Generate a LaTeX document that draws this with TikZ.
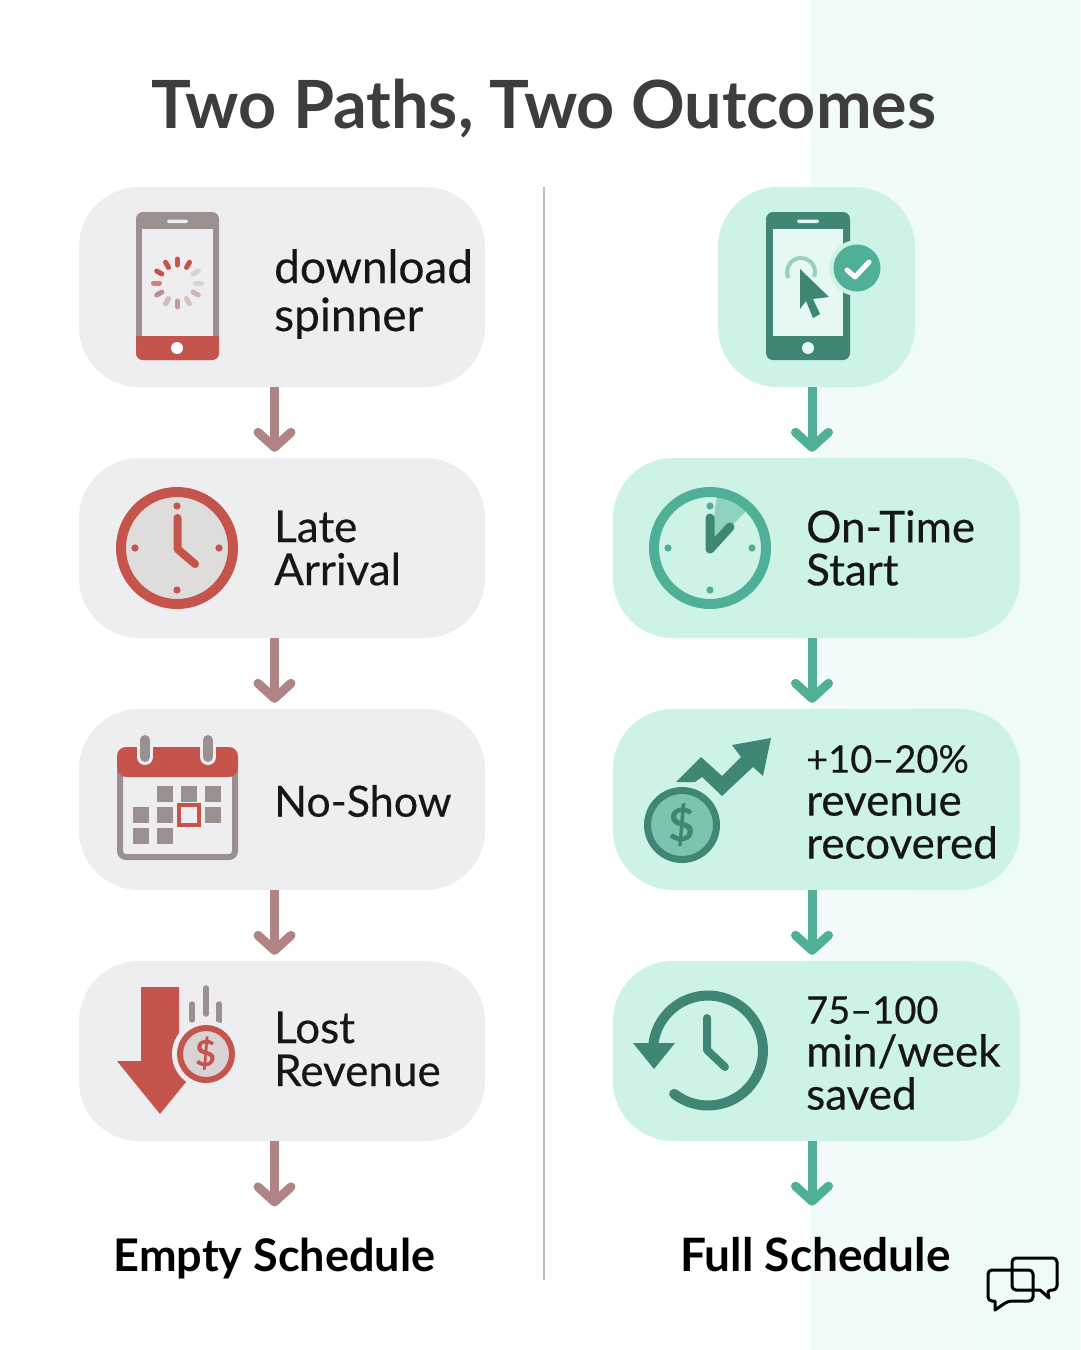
\documentclass[tikz,border=0pt]{standalone}
\usepackage{fontspec}
\setmainfont{Lato}[FakeBold=0.35,BoldFont={Lato Bold},BoldFeatures={FakeBold=0}]
\usetikzlibrary{arrows.meta}

\definecolor{redfill}{HTML}{C5544C}
\definecolor{greyicon}{HTML}{9B9090}
\definecolor{greycard}{HTML}{EEEEF0}
\definecolor{redarrow}{HTML}{B08484}
\definecolor{greencard}{HTML}{CDF3E6}
\definecolor{greendark}{HTML}{3F8674}
\definecolor{greenmid}{HTML}{4FB097}
\definecolor{greenpale}{HTML}{E6F8F2}
\definecolor{inktext}{HTML}{161616}
\definecolor{clockface}{HTML}{DFDCDC}
\definecolor{panelleft}{HTML}{F2FBF9}
\definecolor{panelright}{HTML}{EEFBF6}

\tikzset{
	cardgrey/.style={shape=rectangle,fill=greycard,rounded corners=60pt,inner sep=0pt,minimum width=406pt},
	cardgreen/.style={shape=rectangle,fill=greencard,rounded corners=60pt,inner sep=0pt,minimum width=407pt},
	cardtext/.style={anchor=west,align=left,inner sep=0pt,text=inktext,font=\fontsize{44}{43}\selectfont},
	endtext/.style={anchor=base,inner sep=0pt,text=black,font=\fontsize{45}{45}\selectfont\bfseries},
	flowred/.style={draw=redarrow,line width=9pt,-{Straight Barb[round,length=15pt,width=33pt,line width=9pt]}},
	flowgreen/.style={flowred,draw=greenmid},
	dollar/.style={inner sep=0pt,font=\fontsize{36}{36}\selectfont\bfseries},
}
\newcommand{\smalldigits}{\fontsize{38}{43}\selectfont}

\begin{document}
\begin{tikzpicture}[x=1pt,y=-1pt]

		\useasboundingbox (0,0) rectangle (1080,1350);
		\fill[white] (0,0) rectangle (1080,1350);
		\shade[left color=panelleft,right color=panelright] (810,0) rectangle (1080,1350);

		\node[anchor=base,inner sep=0pt,text=black!76,font=\fontsize{66.5}{66}\selectfont\bfseries] (title) at (544,128) {Two Paths, Two Outcomes};
		\coordinate (divtop) at (544,187);
		\coordinate (divbot) at (544,1280);
		\draw[line width=1.2pt,color=greyicon!60] (divtop) -- (divbot);

		% left column
		\node[cardgrey,minimum height=200pt] (spin) at (282,287) {};
		\node[cardgrey,minimum height=180pt] (late) at (282,548) {};
		\node[cardgrey,minimum height=181pt] (noshow) at (282,799.5) {};
		\node[cardgrey,minimum height=180pt] (lost) at (282,1051) {};
		\node[endtext] (empty) at (274.5,1271) {Empty Schedule};

		\node[cardtext,font=\fontsize{46}{48}\selectfont] (spintext) at (274,294) {download\\spinner};
		\node[cardtext] (latetext) at (274,548) {Late\\Arrival};
		\node[cardtext,font=\fontsize{43}{43}\selectfont] (noshowtext) at (274,801) {No-Show};
		\node[cardtext] (losttext) at (274,1049) {Lost\\Revenue};

		\draw[flowred] ([xshift=-7.5pt]spin.south) -- ([xshift=-7.5pt,yshift=6pt]late.north);
		\draw[flowred] ([xshift=-7.5pt]late.south) -- ([xshift=-7.5pt,yshift=6pt]noshow.north);
		\draw[flowred] ([xshift=-7.5pt]noshow.south) -- ([xshift=-7.5pt,yshift=6pt]lost.north);
		\draw[flowred] (lost.south -| empty.north) -- ([yshift=31pt]empty.north);

		% right column
		\node[cardgreen,minimum width=197pt,minimum height=200pt] (tap) at (816.5,287) {};
		\node[cardgreen,minimum height=180pt] (ontime) at (816.5,548) {};
		\node[cardgreen,minimum height=181pt] (money) at (816.5,799.5) {};
		\node[cardgreen,minimum height=180pt] (saved) at (816.5,1051) {};
		\node[endtext,font=\fontsize{46}{46}\selectfont\bfseries] (full) at (815.5,1271) {Full Schedule};

		\node[cardtext] (ontimetext) at (806,548) {On-Time\\Start};
		\node[cardtext] (moneytext) at (806,802) {{\smalldigits +10–20\%}\\revenue\\recovered};
		\node[cardtext] (savedtext) at (806,1053) {{\smalldigits 75–100}\\min/week\\saved};

		\draw[flowgreen] ([xshift=-4.5pt]tap.south) -- ([xshift=-4.5pt,yshift=6pt]ontime.north);
		\draw[flowgreen] ([xshift=-4.5pt]ontime.south) -- ([xshift=-4.5pt,yshift=6pt]money.north);
		\draw[flowgreen] ([xshift=-4.5pt]money.south) -- ([xshift=-4.5pt,yshift=6pt]saved.north);
		\draw[flowgreen] ([xshift=-4.5pt]saved.south) -- ([xshift=-3.5pt,yshift=31pt]full.north);

		% phone with spinner
		\fill[greyicon,rounded corners=7pt] (136,212) rectangle (219,360);
		\fill[redfill,rounded corners=7pt] (136,345) -- (136,360) -- (219,360) -- (219,345) -- cycle;
		\fill[redfill] (136,336) rectangle (219,350);
		\fill[greycard] (142,229) rectangle (213,336);
		\fill[greycard,rounded corners=1.5pt] (167,219.5) rectangle (188,223);
		\fill[white] (177,348) circle (6);
		\foreach \ang/\col in {-90/redfill,-60/redfill,-30/greyicon!40,0/greyicon!40,30/redarrow!60,60/redarrow!50,90/redarrow!80,120/redarrow!55,150/redarrow!90,180/redfill!75,210/redfill,240/redfill}
			\draw[color=\col,line width=5pt,line cap=round] (177.5,283) ++(\ang:18) -- ++(\ang:6);

		\fill[greendark,rounded corners=7pt] (766,212) rectangle (850,360);
		\fill[greenpale] (773,229) rectangle (843,336);
		\fill[greenpale,rounded corners=1.5pt] (797,219.5) rectangle (819,223);
		\fill[greenpale] (808,348) circle (6);
		\draw[color=greenmid!60,line width=4pt] (801,272) ++(155:14) arc (155:380:14);
		\fill[greendark] (800,269) -- (829,297) -- (813,299) -- (820,314) -- (813,318) -- (806,301) -- (800,309) -- cycle;
		\fill[greencard] (857,268) circle (28);
		\fill[greenmid] (857,268) circle (23.5);
		\draw[white,line width=5pt,line cap=round,line join=round] (847,270) -- (855,277) -- (869,262);

		% clocks
		\draw[draw=redfill,fill=clockface,line width=10pt] (177,548) circle (56);
		\foreach \dx/\dy in {0/-42,42/0,-42/0,0/42}
			\fill[redfill] (177,548) ++(\dx,\dy) circle (3.6);
		\draw[redfill,line width=8pt,line cap=round,line join=round] (177.5,518) -- (177.5,549) -- (195,564);

		\fill[greenmid!50!greencard] (710,548) -- (717,495) -- (747,510) -- cycle;
		\draw[draw=greenmid,line width=10pt] (710,548) circle (56);
		\foreach \dx/\dy in {0/-42,42/0,-42/0,0/42}
			\fill[greenmid] (710,548) ++(\dx,\dy) circle (3.6);
		\draw[greendark,line width=9pt,line cap=round,line join=round] (710,518) -- (710,549) -- (730,527);

		% calendar
		\draw[greyicon,line width=6pt,rounded corners=6pt,fill=greycard] (120,770) -- (120,857) -- (235,857) -- (235,770);
		\fill[redfill,rounded corners=9pt] (117,777) -- (117,747) -- (238,747) -- (238,777) -- cycle;
		\foreach \rx in {145,208} {
			\draw[greycard,line width=16pt,line cap=round] (\rx,740) -- (\rx,757);
			\draw[greyicon,line width=10pt,line cap=round] (\rx,740) -- (\rx,757);
		}
		\foreach \sx/\sy in {157/786,181/786,205/786,133/807,157/807,205/807,133/828,157/828}
			\fill[greyicon] (\sx,\sy) rectangle ++(16,16);
		\draw[redfill,line width=3.5pt] (179,805) rectangle (199,825);

		% falling arrow and coin
		\fill[redfill] (141,987) -- (179,987) -- (179,1061) -- (203,1061) -- (160,1114) -- (117,1061) -- (141,1061) -- cycle;
		\foreach \lx/\la/\lb in {192/1004/1020,206/988/1014,219/1004/1021}
			\draw[greyicon,line width=5.5pt,line cap=round] (\lx,\la) -- (\lx,\lb);
		\fill[greycard] (206,1054) circle (34);
		\draw[draw=redfill,fill=clockface!90!redarrow,line width=6pt] (206,1054) circle (26);
		\node[dollar,text=redfill] (lostcoin) at (206,1054) {\$};

		% rising arrow and coin
		\fill[greendark] (676,782) -- (701,757) -- (722,776) -- (741,757) -- (732,745) -- (771,738) -- (763,776) -- (753,767) -- (722,796) -- (702,777) -- (695,782) -- cycle;
		\draw[draw=greendark,fill=greenmid!50!greencard!80!greendark,line width=7pt] (682,825) circle (34.5);
		\node[dollar,text=greendark,font=\fontsize{46}{46}\selectfont\bfseries] (moneycoin) at (682,825) {\$};

		% clock turned back
		\draw[greendark,line width=10pt,line cap=round] (708,1050.5) ++(128:55) arc (128:-172:55);
		\fill[greendark] (633,1043) -- (675,1043) -- (654,1069) -- cycle;
		\draw[greendark,line width=8pt,line cap=round,line join=round] (707,1018) -- (707,1050) -- (725,1067);

		% speech bubbles
		\draw[black,line width=3pt,line join=round,rounded corners=4pt] (1012,1272) -- (1012,1258) -- (1057,1258) -- (1057,1290) -- (1047,1290) [sharp corners] -- (1049,1298) -- (1040,1290) [rounded corners=4pt] -- (1012,1290) -- cycle;
		\draw[black,line width=3pt,line join=round,rounded corners=4pt] (1000,1270) -- (1033,1270) -- (1033,1301) -- (1008,1301) [sharp corners] -- (995,1310) -- (995,1301) [rounded corners=4pt] -- (988,1301) -- (988,1270) -- cycle;

\end{tikzpicture}
\end{document}
